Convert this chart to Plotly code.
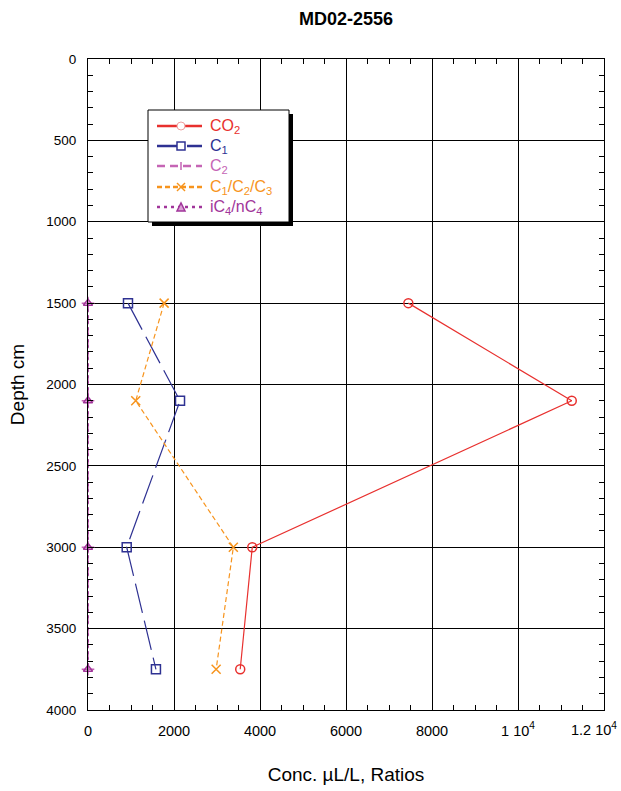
import plotly.graph_objects as go

depth = [1500, 2100, 3000, 3750]
co2 = [7450, 11250, 3820, 3540]
c1 = [930, 2140, 900, 1580]
c2 = [0, 0, 0, 0]
c1c2c3 = [1770, 1110, 3380, 2980]
ic4nc4 = [0, 0, 0, 0]

series_names = ["CO<sub>2</sub>", "C<sub>1</sub>", "C<sub>2</sub>",
                "C<sub>1</sub>/C<sub>2</sub>/C<sub>3</sub>", "iC<sub>4</sub>/nC<sub>4</sub>"]

x_tickvals = [0, 2000, 4000, 6000, 8000, 10000, 12000]
x_ticktext = ["0", "2000", "4000", "6000", "8000", "1 10<sup>4</sup>", "1.2 10<sup>4</sup>"]
y_tickvals = [0, 500, 1000, 1500, 2000, 2500, 3000, 3500, 4000]

FONT = "Liberation Sans, Arial, Helvetica, sans-serif"

RED = "#e8302e"
NAVY = "#2e3192"
PINK = "#c565b5"
ORANGE = "#f7941d"
PURPLE = "#a1359a"

W, H = 621, 791
L, R, T, B = 88, 17, 59, 81
PW, PH = W - L - R, H - T - B


def px(x):
    return (x - L) / PW


def py(y):
    return (H - B - y) / PH


fig = go.Figure()
fig.add_trace(go.Scatter(x=co2, y=depth, mode="lines+markers", name=series_names[0],
                         line=dict(color=RED, width=1.2),
                         marker=dict(symbol="circle-open", size=9, color=RED, line=dict(width=1.5)),
                         cliponaxis=False))
fig.add_trace(go.Scatter(x=c1, y=depth, mode="lines+markers", name=series_names[1],
                         line=dict(color=NAVY, width=1.2, dash="30px,8px"),
                         marker=dict(symbol="square-open", size=9, color=NAVY, line=dict(width=1.5)),
                         cliponaxis=False))
fig.add_trace(go.Scatter(x=c2, y=depth, mode="lines+markers", name=series_names[2],
                         line=dict(color=PINK, width=1.5, dash="8px,4px"),
                         marker=dict(symbol="cross-thin-open", size=9, color=PINK, line=dict(width=1.5, color=PINK)),
                         cliponaxis=False))
fig.add_trace(go.Scatter(x=c1c2c3, y=depth, mode="lines+markers", name=series_names[3],
                         line=dict(color=ORANGE, width=1.2, dash="5px,3px"),
                         marker=dict(symbol="x-thin-open", size=9, color=ORANGE, line=dict(width=1.5, color=ORANGE)),
                         cliponaxis=False))
fig.add_trace(go.Scatter(x=ic4nc4, y=depth, mode="lines+markers", name=series_names[4],
                         line=dict(color=PURPLE, width=1.5, dash="3px,3px"),
                         marker=dict(symbol="triangle-up-open", size=8, color=PURPLE, line=dict(width=1.5)),
                         cliponaxis=False))

# ---- custom legend (box with drop shadow) ----
shapes = []
annotations = []
bx0, bx1, by0, by1 = 148, 289, 110, 222
shapes.append(dict(type="rect", xref="paper", yref="paper", x0=px(bx0 + 4), x1=px(bx1 + 4),
                   y0=py(by1 + 4), y1=py(by0 + 4), fillcolor="black", line=dict(width=0), layer="above"))
shapes.append(dict(type="rect", xref="paper", yref="paper", x0=px(bx0), x1=px(bx1),
                   y0=py(by1), y1=py(by0), fillcolor="white", line=dict(color="black", width=1), layer="above"))

rows = [126, 146, 166, 187, 207]
colors = [RED, NAVY, PINK, ORANGE, PURPLE]
dashes = ["solid", "22px,8px", "8px,5px", "5px,3px", "3px,4px"]
lx0, lx1, mx = 157, 202, 181
for i, (yy, col, dsh) in enumerate(zip(rows, colors, dashes)):
    shapes.append(dict(type="line", xref="paper", yref="paper", x0=px(lx0), x1=px(lx1),
                       y0=py(yy), y1=py(yy), line=dict(color=col, width=2.5, dash=dsh), layer="above"))
    annotations.append(dict(xref="paper", yref="paper", x=px(208), y=py(yy), xanchor="left", yanchor="middle",
                            text=series_names[i], showarrow=False,
                            font=dict(family=FONT, size=16, color=col)))
r = 4
# markers in legend
shapes.append(dict(type="circle", xref="paper", yref="paper", x0=px(mx - r), x1=px(mx + r),
                   y0=py(rows[0] + r), y1=py(rows[0] - r), fillcolor="white",
                   line=dict(color="#f0a0a0", width=1), layer="above"))
shapes.append(dict(type="rect", xref="paper", yref="paper", x0=px(mx - r), x1=px(mx + r),
                   y0=py(rows[1] + r), y1=py(rows[1] - r), fillcolor="white",
                   line=dict(color=NAVY, width=1.5), layer="above"))
shapes.append(dict(type="line", xref="paper", yref="paper", x0=px(mx), x1=px(mx),
                   y0=py(rows[2] + r), y1=py(rows[2] - r), line=dict(color=PINK, width=1.5), layer="above"))
shapes.append(dict(type="line", xref="paper", yref="paper", x0=px(mx - r), x1=px(mx + r),
                   y0=py(rows[3] + r), y1=py(rows[3] - r), line=dict(color=ORANGE, width=1.5), layer="above"))
shapes.append(dict(type="line", xref="paper", yref="paper", x0=px(mx - r), x1=px(mx + r),
                   y0=py(rows[3] - r), y1=py(rows[3] + r), line=dict(color=ORANGE, width=1.5), layer="above"))
ty = rows[4]
shapes.append(dict(type="path", xref="paper", yref="paper",
                   path=f"M {px(mx - r)} {py(ty + r)} L {px(mx + r)} {py(ty + r)} L {px(mx)} {py(ty - r)} Z",
                   fillcolor="#d9a0d5", line=dict(color=PURPLE, width=1.5), layer="above"))

# last x tick label drawn as annotation, right-aligned inside the page (as in the reference)
annotations.append(dict(xref="paper", yref="paper", x=px(619), y=py(729), xanchor="right", yanchor="middle",
                        text=x_ticktext[-1], showarrow=False, font=dict(family=FONT, size=14.5, color="black")))
x_ticktext_axis = x_ticktext[:-1] + [""]

fig.update_layout(
    width=W, height=H,
    margin=dict(l=L, r=R, t=T, b=B, autoexpand=False),
    paper_bgcolor="white", plot_bgcolor="white",
    font=dict(family=FONT, size=13, color="black"),
    title=dict(text="<b>MD02-2556</b>", x=346 / W, xanchor="center", y=1 - 19 / H, yanchor="middle",
               font=dict(size=18, family=FONT)),
    showlegend=False,
    shapes=shapes,
    annotations=annotations,
    xaxis=dict(range=[0, 12000], tickvals=x_tickvals, ticktext=x_ticktext_axis, automargin=False,
               showgrid=True, gridcolor="black", gridwidth=1.2,
               zeroline=False, showline=True, linecolor="black", linewidth=1.2, mirror="allticks",
               ticks="inside", ticklen=6, tickcolor="black", ticklabeloverflow="allow",
               ticklabelstandoff=7,
               minor=dict(dtick=500, ticks="inside", ticklen=5, tickcolor="black", showgrid=False),
               title=dict(text="Conc. µL/L, Ratios", font=dict(size=19), standoff=30),
               tickfont=dict(size=14.5)),
    yaxis=dict(range=[4000, 0], tickvals=y_tickvals, automargin=False,
               showgrid=True, gridcolor="black", gridwidth=1.2,
               zeroline=False, showline=True, linecolor="black", linewidth=1.2, mirror="allticks",
               ticks="inside", ticklen=6, tickcolor="black", ticklabelstandoff=8,
               minor=dict(dtick=100, ticks="inside", ticklen=5, tickcolor="black", showgrid=False),
               title=dict(text="Depth cm", font=dict(size=19), standoff=16),
               tickfont=dict(size=13.5)),
)

fig.write_html("out.html")
